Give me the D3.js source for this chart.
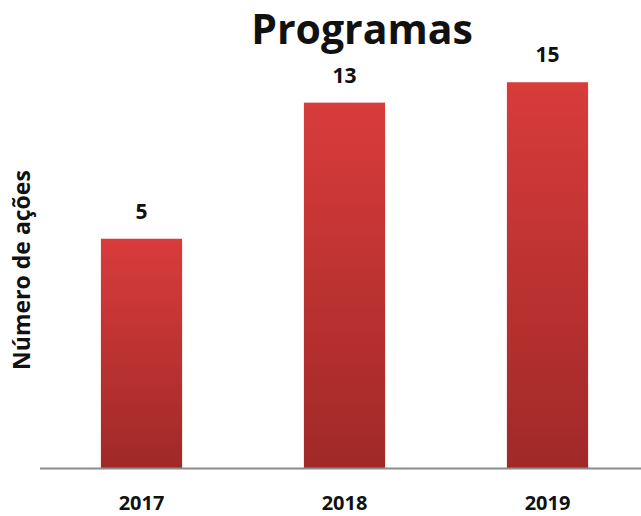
<!DOCTYPE html>
<html>
<head>
<meta charset="utf-8">
<script src="https://cdn.jsdelivr.net/npm/d3@7"></script>
<style>
  html, body { margin: 0; padding: 0; background: #fff; }
  svg { display: block; }
  text { font-family: "Open Sans", "Noto Sans", sans-serif; font-weight: 700; fill: #111; }
</style>
</head>
<body>
<svg id="chart" width="641" height="516"></svg>
<script>
// Chart data
const years = ["2017", "2018", "2019"];
const acoes = [5, 13, 15];
const chartTitle = "Programas";
const yLabel = "Número de ações";

const svg = d3.select("#chart");
const W = 641, H = 516;
const baseY = 468;

const x = d3.scaleBand()
  .domain(years)
  .range([40, 649])
  .paddingInner(0.6)
  .paddingOuter(0.3);

// Values on a logarithmic axis starting at 1
const y = d3.scaleLog()
  .domain([1, 10])
  .range([baseY, baseY - 328]);

// Vertical red gradient for the bars
const defs = svg.append("defs");
const grad = defs.append("linearGradient")
  .attr("id", "barGrad")
  .attr("x1", 0).attr("y1", 0).attr("x2", 0).attr("y2", 1);
grad.append("stop").attr("offset", "0%").attr("stop-color", "#d83c3b");
grad.append("stop").attr("offset", "100%").attr("stop-color", "#a02928");

const data = years.map((yr, i) => ({ year: yr, value: acoes[i] }));

svg.append("g")
  .selectAll("rect")
  .data(data)
  .join("rect")
  .attr("x", d => x(d.year))
  .attr("y", d => y(d.value))
  .attr("width", x.bandwidth())
  .attr("height", d => baseY - y(d.value))
  .attr("fill", "url(#barGrad)");

// Baseline axis
svg.append("line")
  .attr("x1", 40).attr("x2", W)
  .attr("y1", baseY + 0.5).attr("y2", baseY + 0.5)
  .attr("stroke", "#8c8c8c")
  .attr("stroke-width", 2);

// Category labels
svg.append("g")
  .selectAll("text")
  .data(data)
  .join("text")
  .attr("x", d => x(d.year) + x.bandwidth() / 2)
  .attr("y", 510)
  .attr("text-anchor", "middle")
  .attr("font-size", 20)
  .text(d => d.year);

// Value labels
svg.append("g")
  .selectAll("text")
  .data(data)
  .join("text")
  .attr("x", d => x(d.year) + x.bandwidth() / 2)
  .attr("y", d => y(d.value) - 20)
  .attr("text-anchor", "middle")
  .attr("font-size", 21)
  .text(d => d.value);

// Title
svg.append("text")
  .attr("x", 362)
  .attr("y", 44)
  .attr("text-anchor", "middle")
  .attr("font-size", 41)
  .text(chartTitle);

// Y-axis title
svg.append("text")
  .attr("transform", "translate(30,270) rotate(-90)")
  .attr("text-anchor", "middle")
  .attr("font-size", 23)
  .attr("font-weight", 600)
  .text(yLabel);
</script>
</body>
</html>
